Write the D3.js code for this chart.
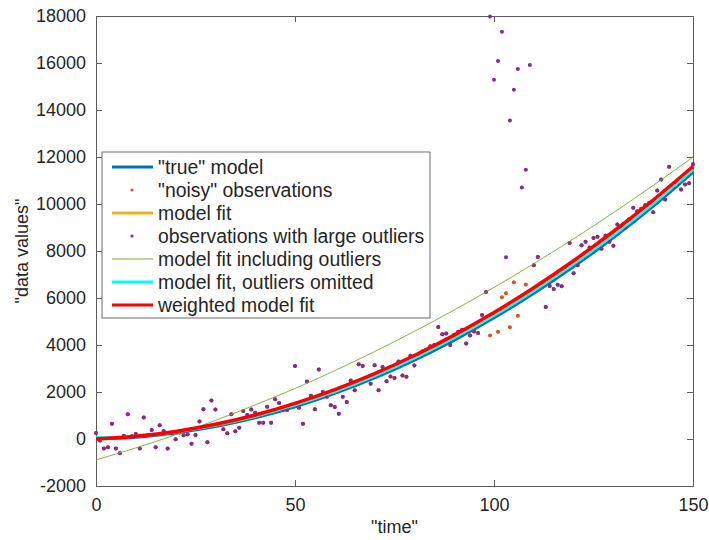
<!DOCTYPE html>
<html>
<head>
<meta charset="utf-8">
<script src="https://cdn.jsdelivr.net/npm/d3@7"></script>
<style>
body { margin: 0; background: #fff; }
text { font-family: "Liberation Sans", Arial, Helvetica, sans-serif; fill: #262626; }
</style>
</head>
<body>
<svg class="chart" width="709" height="540"></svg>
<script>
// time steps of the observations
var times = d3.range(0, 151);

// "noisy" observations, one per time step
var noisyValues = [
    255, -60, -400, -350, 650, -400, -610, 140, 1050, 120,
    210, -400, 920, 155, 380, -350, 580, 340, -400, 230,
    -15, 280, 155, 200, -200, 170, 750, 1270, -140, 1640,
    1260, 600, 410, 240, 1050, 325, 480, 1190, 1020, 1260,
    1120, 690, 690, 1370, 690, 1690, 1530, 1250, 1230, 1460,
    3110, 1330, 650, 2450, 1840, 1270, 2960, 2000, 1800, 1440,
    1360, 1070, 1800, 1570, 2490, 2070, 3180, 3110, 2600, 2350,
    3140, 2070, 3060, 2460, 2660, 2600, 3300, 2700, 2650, 3540,
    3130, 3580, 3720, 3800, 3950, 4000, 4770, 4460, 4490, 4000,
    4440, 4560, 4650, 4060, 4400, 4570, 4510, 5280, 6260, 4400,
    5300, 4560, 6030, 6200, 4760, 6670, 5250, 6050, 6570, 6280,
    7390, 7740, 6650, 5620, 6510, 6380, 6560, 6500, 7330, 8340,
    7050, 7390, 8240, 8390, 8150, 8550, 8610, 8100, 8650, 8390,
    8220, 9130, 9000, 8990, 9350, 9840, 9690, 9800, 9950, 10050,
    9650, 10570, 11040, 10190, 11590, 10690, 10880, 10620, 10830, 10880,
    11690
];

// large outliers that replace some of the observations
var outlierTimes = [99, 100, 101, 102, 103, 104, 105, 106, 107, 108, 109];
var outlierValues = [17980, 15290, 16090, 17325, 7730, 13550, 14860, 15750, 10700, 11460, 15920];

// model curves, sampled every 10 time units
var curveTimes = [0, 10, 20, 30, 40, 50, 60, 70, 80, 90, 100, 110, 120, 130, 140, 150];
var trueModel = [20, 90, 270, 540, 910, 1380, 1950, 2610, 3370, 4220, 5170, 6210, 7350, 8580, 9920, 11370];
var modelFit = [60, 115, 290, 570, 950, 1430, 2000, 2670, 3430, 4290, 5240, 6290, 7430, 8660, 10000, 11450];
var fitWithOutliers = [-890, -380, 180, 790, 1450, 2150, 2910, 3720, 4580, 5490, 6450, 7460, 8520, 9630, 10790, 12000];
var fitOmitted = [70, 120, 295, 575, 955, 1435, 2005, 2675, 3435, 4295, 5245, 6295, 7435, 8665, 10005, 11455];
var weightedFit = [0, 115, 323, 626, 1023, 1514, 2100, 2778, 3552, 4419, 5381, 6437, 7586, 8830, 10168, 11600];

var xTicks = [0, 50, 100, 150];
var yTicks = [-2000, 0, 2000, 4000, 6000, 8000, 10000, 12000, 14000, 16000, 18000];

var legendLabels = [
    '"true" model',
    '"noisy" observations',
    'model fit',
    'observations with large outliers',
    'model fit including outliers',
    'model fit, outliers omitted',
    'weighted model fit'
];

var blue = '#0072BD', orange = '#D95319', yellow = '#EDB120', purple = '#7E2F8E',
    green = '#77AC30', cyan = '#00FFFF', red = '#FF0000', axisColor = '#5c5c5c';

var margin = { left: 96, top: 16, right: 16, bottom: 54 };
var width = 709 - margin.left - margin.right;
var height = 540 - margin.top - margin.bottom;

var svg = d3.select('.chart');
var g = svg.append('g')
    .attr('transform', 'translate(' + margin.left + ',' + margin.top + ')');

var xScale = d3.scaleLinear().domain([0, 150]).range([0, width]);
var yScale = d3.scaleLinear().domain([-2000, 18000]).range([height, 0]);

// plain numbers with an ascii minus, no thousands separator
function plain(d) {
    return String(d);
}

/* Data */
var noisy = times.map(function(t, i) {
    return { t: t, v: noisyValues[i] };
});

var withOutliers = noisy.map(function(d) {
    var k = outlierTimes.indexOf(d.t);
    return { t: d.t, v: k >= 0 ? outlierValues[k] : d.v };
});

function curvePoints(values) {
    return curveTimes.map(function(t, i) {
        return { t: t, v: values[i] };
    });
}

/* Axes */
function styleAxis(sel) {
    sel.selectAll('path').style('stroke', axisColor);
    sel.selectAll('line').style('stroke', axisColor);
    sel.selectAll('text')
        .style('font-size', '18px')
        .style('fill', '#262626')
        .style('font-family', '"Liberation Sans", Arial, sans-serif');
}

g.append('g')
    .attr('transform', 'translate(0,' + height + ')')
    .call(d3.axisBottom(xScale).tickValues(xTicks).tickFormat(plain)
        .tickSizeInner(-6).tickSizeOuter(0).tickPadding(12))
    .call(styleAxis);

g.append('g')
    .call(d3.axisTop(xScale).tickValues(xTicks).tickSizeInner(-6).tickSizeOuter(0).tickFormat(''))
    .call(styleAxis);

g.append('g')
    .call(d3.axisLeft(yScale).tickValues(yTicks).tickFormat(plain)
        .tickSizeInner(-6).tickSizeOuter(0).tickPadding(10))
    .call(styleAxis);

g.append('g')
    .attr('transform', 'translate(' + width + ',0)')
    .call(d3.axisRight(yScale).tickValues(yTicks).tickSizeInner(-6).tickSizeOuter(0).tickFormat(''))
    .call(styleAxis);

svg.append('text')
    .attr('x', margin.left + width / 2)
    .attr('y', 533)
    .attr('text-anchor', 'middle')
    .style('font-size', '18px')
    .text('"time"');

svg.append('text')
    .attr('transform', 'translate(28,' + (margin.top + height / 2) + ') rotate(-90)')
    .attr('text-anchor', 'middle')
    .style('font-size', '18px')
    .text('"data values"');

/* Marks, in plotting order */
var lineGen = d3.line()
    .x(function(d) { return xScale(d.t); })
    .y(function(d) { return yScale(d.v); })
    .curve(d3.curveMonotoneX);

function drawLine(values, color, w) {
    g.append('path')
        .datum(curvePoints(values))
        .attr('d', lineGen)
        .style('fill', 'none')
        .style('stroke', color)
        .style('stroke-width', w);
}

function drawDots(data, color) {
    g.append('g')
        .selectAll('circle')
        .data(data)
        .join('circle')
        .attr('cx', function(d) { return xScale(d.t); })
        .attr('cy', function(d) { return yScale(d.v); })
        .attr('r', 2)
        .style('fill', color);
}

drawLine(trueModel, blue, 3.5);
drawDots(noisy, orange);
drawLine(modelFit, yellow, 2);
drawDots(withOutliers, purple);
drawLine(fitWithOutliers, green, 0.9);
drawLine(fitOmitted, cyan, 2);
drawLine(weightedFit, red, 3.5);

/* Legend */
var legendStyles = [
    { type: 'line', color: blue, w: 3 },
    { type: 'dot', color: orange },
    { type: 'line', color: yellow, w: 3 },
    { type: 'dot', color: purple },
    { type: 'line', color: green, w: 1 },
    { type: 'line', color: cyan, w: 3 },
    { type: 'line', color: red, w: 3 }
];

var legend = svg.append('g').attr('transform', 'translate(102,152)');
legend.append('rect')
    .attr('width', 328)
    .attr('height', 166)
    .style('fill', '#fff')
    .style('stroke', '#6a6a6a')
    .style('stroke-width', 1);

var rows = legend.selectAll('g.row')
    .data(legendLabels)
    .join('g')
    .attr('class', 'row')
    .attr('transform', function(d, i) {
        return 'translate(0,' + (15 + i * 23) + ')';
    });

rows.each(function(d, i) {
    var s = legendStyles[i];
    var row = d3.select(this);
    if (s.type === 'line') {
        row.append('line')
            .attr('x1', 10).attr('x2', 51)
            .style('stroke', s.color)
            .style('stroke-width', s.w);
    } else {
        row.append('circle')
            .attr('cx', 30).attr('r', 1.6)
            .style('fill', s.color);
    }
});

rows.append('text')
    .attr('x', 56)
    .attr('dy', '0.35em')
    .style('font-size', '19.4px')
    .text(function(d) { return d; });
</script>
</body>
</html>
